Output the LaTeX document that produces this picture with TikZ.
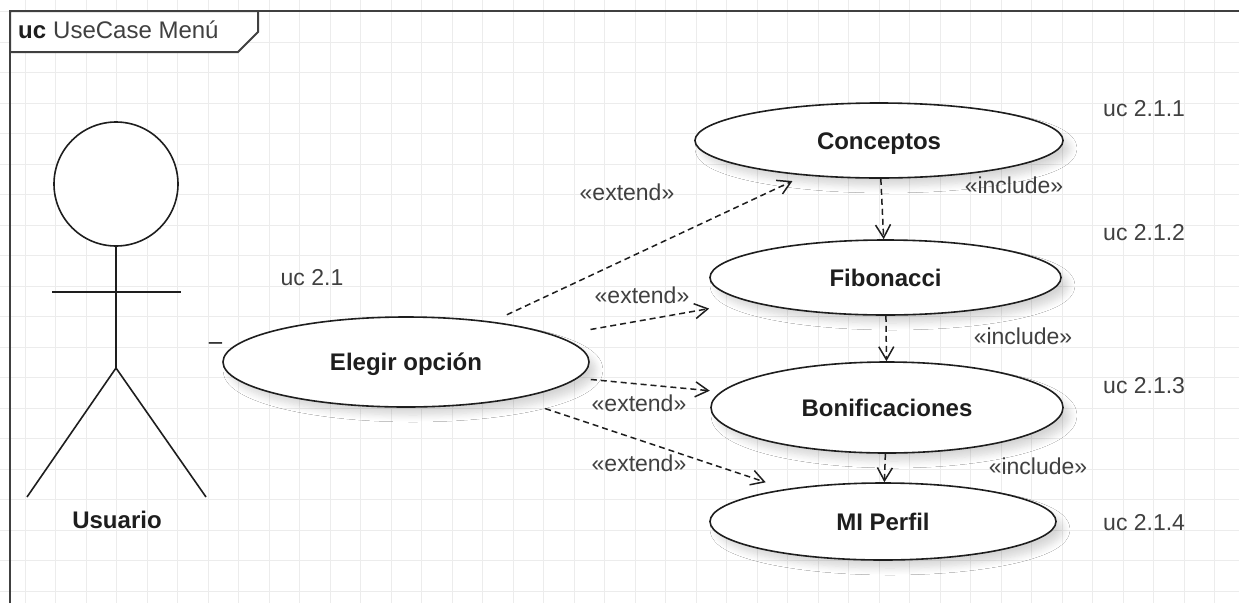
\documentclass[tikz,border=0pt]{standalone}
\usepackage{fontspec}
\setmainfont{Liberation Sans}
\usetikzlibrary{arrows.meta,shapes.geometric,shadows.blur}
\definecolor{gridc}{HTML}{ECECEC}
\definecolor{ink}{HTML}{1E1E1E}
\definecolor{txt}{HTML}{404040}
\begin{document}
\begin{tikzpicture}[x=1pt,y=-1pt,
  usecase/.style={ellipse, draw=ink, line width=1.6pt, fill=white, inner sep=0pt,
    font=\fontsize{24}{28}\selectfont\bfseries, text=ink, text height=17pt, text depth=0pt,
    blur shadow={shadow xshift=7pt, shadow yshift=-8pt, shadow blur radius=7pt, shadow blur steps=8, shadow opacity=16}},
  lbl/.style={font=\fontsize{23}{27}\selectfont, text=txt, inner sep=0pt, text height=16pt, text depth=0pt},
  boldlbl/.style={font=\fontsize{24}{28}\selectfont\bfseries, text=ink, inner sep=0pt, text height=17pt, text depth=0pt},
  dep/.style={draw=ink, line width=1.5pt, dash pattern=on 6pt off 4pt,
    -{Straight Barb[length=13pt,width=15pt,line width=1.5pt]}},
  stick/.style={draw=ink, line width=1.6pt}
]
\useasboundingbox (0,0) rectangle (1239,603);
\fill[white] (0,0) rectangle (1239,603);

% background grid
\foreach \i in {0,...,41} \draw[gridc, line width=1pt] ({-5.5+30.5*\i},0) -- ++(0,603);
\foreach \j in {0,...,19} \draw[gridc, line width=1pt] (0,{11.5+30.5*\j}) -- ++(1239,0);

% diagram frame with its name tab
\draw[ink!85, line width=2pt] (10,603) -- (10,11) -- (1239,11);
\filldraw[fill=white, draw=ink!85, line width=2pt] (10,11) -- (258,11) -- (258,32) -- (238,52) -- (10,52) -- cycle;
\node[anchor=base west, inner sep=0pt, font=\fontsize{24}{28}\selectfont, text=ink] (title) at (18,38)
  {\textbf{uc}\hspace{7pt}{\color{txt}UseCase Menú}};

% actor
\node[circle, draw=ink, line width=1.6pt, fill=white, minimum size=124pt, inner sep=0pt] (head) at (116,184) {};
\coordinate (hip) at (116,368);
\coordinate (larm) at (52,292);
\coordinate (rarm) at (181,292);
\coordinate (lfoot) at (27,497);
\coordinate (rfoot) at (206,497);
\draw[stick] (head.south) -- (hip);
\draw[stick] (larm) -- (rarm);
\draw[stick] (lfoot) -- (hip) -- (rfoot);
\node[boldlbl] (usuario) at (117,520) {Usuario};
\node[anchor=base, inner sep=0pt, font=\fontsize{24}{28}\selectfont, text=ink] (mult) at (215.5,349) {–};

% use cases
\node[usecase, minimum width=366pt, minimum height=90pt] (elegir) at (406,362) {Elegir opción};
\node[usecase, minimum width=368pt, minimum height=75pt] (conceptos) at (879,140.5) {Conceptos};
\node[usecase, minimum width=351pt, minimum height=75pt] (fibonacci) at (885.5,277.5) {Fibonacci};
\node[usecase, minimum width=352pt, minimum height=91pt] (bonif) at (887,407.5) {Bonificaciones};
\node[usecase, minimum width=346pt, minimum height=77pt] (perfil) at (883,521.5) {MI Perfil};

% identifiers
\node[lbl] (uc21) at (312,277) {uc 2.1};
\node[lbl, anchor=west] (uc211) at (1103,108) {uc 2.1.1};
\node[lbl, anchor=west] (uc212) at (1103,232) {uc 2.1.2};
\node[lbl, anchor=west] (uc213) at (1103,385) {uc 2.1.3};
\node[lbl, anchor=west] (uc214) at (1103,522) {uc 2.1.4};

% extend relations
\draw[dep, shorten <=16pt, shorten >=13pt] (elegir) -- (conceptos);
\draw[dep, shorten <=35pt, shorten >=40pt] (elegir) -- (fibonacci);
\draw[dep, shorten <=13pt, shorten >=11pt] (elegir) -- (bonif);
\draw[dep, shorten <=31pt, shorten >=21pt] (elegir) -- (perfil);
\node[lbl] (ext1) at (627,192) {«extend»};
\node[lbl] (ext2) at (642,295) {«extend»};
\node[lbl] (ext3) at (639,403) {«extend»};
\node[lbl] (ext4) at (639,463) {«extend»};

% include relations
\draw[dep] (conceptos) -- (fibonacci);
\draw[dep] (fibonacci) -- (bonif);
\draw[dep] (bonif) -- (perfil);
\node[lbl] (inc1) at (1014,185) {«include»};
\node[lbl] (inc2) at (1023,336) {«include»};
\node[lbl] (inc3) at (1038,466) {«include»};
\end{tikzpicture}
\end{document}
